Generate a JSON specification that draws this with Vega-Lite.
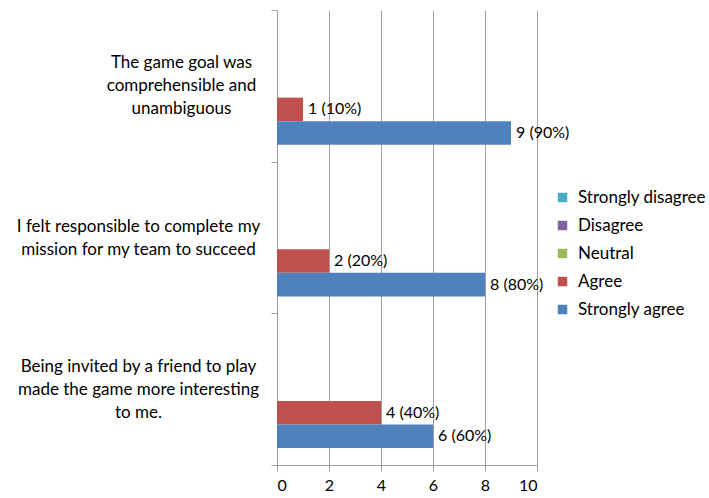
{
  "$schema": "https://vega.github.io/schema/vega-lite/v6.json",
  "width": 260,
  "height": 455,
  "autosize": {"type": "none"},
  "padding": {"left": 277, "top": 10, "right": 172, "bottom": 33},
  "background": "white",
  "config": {
    "font": "Lato",
    "view": {"stroke": null},
    "axis": {"labelFont": "Lato", "labelColor": "#000000"}
  },
  "data": {
    "values": [
      {"statement": "The game goal was|comprehensible and|unambiguous", "response": "Strongly disagree", "count": 0, "label": ""},
      {"statement": "The game goal was|comprehensible and|unambiguous", "response": "Disagree", "count": 0, "label": ""},
      {"statement": "The game goal was|comprehensible and|unambiguous", "response": "Neutral", "count": 0, "label": ""},
      {"statement": "The game goal was|comprehensible and|unambiguous", "response": "Agree", "count": 1, "label": "1 (10%)"},
      {"statement": "The game goal was|comprehensible and|unambiguous", "response": "Strongly agree", "count": 9, "label": "9 (90%)"},
      {"statement": "I felt responsible to complete my|mission for my team to succeed", "response": "Strongly disagree", "count": 0, "label": ""},
      {"statement": "I felt responsible to complete my|mission for my team to succeed", "response": "Disagree", "count": 0, "label": ""},
      {"statement": "I felt responsible to complete my|mission for my team to succeed", "response": "Neutral", "count": 0, "label": ""},
      {"statement": "I felt responsible to complete my|mission for my team to succeed", "response": "Agree", "count": 2, "label": "2 (20%)"},
      {"statement": "I felt responsible to complete my|mission for my team to succeed", "response": "Strongly agree", "count": 8, "label": "8 (80%)"},
      {"statement": "Being invited by a friend to play|made the game more interesting|to me.", "response": "Strongly disagree", "count": 0, "label": ""},
      {"statement": "Being invited by a friend to play|made the game more interesting|to me.", "response": "Disagree", "count": 0, "label": ""},
      {"statement": "Being invited by a friend to play|made the game more interesting|to me.", "response": "Neutral", "count": 0, "label": ""},
      {"statement": "Being invited by a friend to play|made the game more interesting|to me.", "response": "Agree", "count": 4, "label": "4 (40%)"},
      {"statement": "Being invited by a friend to play|made the game more interesting|to me.", "response": "Strongly agree", "count": 6, "label": "6 (60%)"}
    ]
  },
  "layer": [
    {
      "mark": {"type": "bar"},
      "encoding": {
        "y": {
          "field": "statement",
          "type": "nominal",
          "sort": null,
          "scale": {"paddingInner": 0, "paddingOuter": 0},
          "axis": {
            "title": null,
            "labelExpr": "datum.value ? split(datum.value, '|') : ''",
            "labelAlign": "center",
            "labelBaseline": "middle",
            "labelFontSize": 17,
            "labelLineHeight": 23,
            "labelLimit": 300,
            "labelPadding": {
              "condition": {"test": "datum.value && indexof(datum.value, 'The game') == 0", "value": 90},
              "value": 133
            },
            "labelOffset": {
              "condition": {"test": "datum.value && length(split(datum.value, '|')) == 3", "value": -23},
              "value": -11.5
            },
            "tickBand": "extent",
            "tickSize": 6,
            "tickColor": "#A0A0A0",
            "domainColor": "#A0A0A0",
            "grid": false
          }
        },
        "yOffset": {
          "field": "response",
          "type": "nominal",
          "sort": ["Strongly disagree", "Disagree", "Neutral", "Agree", "Strongly agree"],
          "scale": {"paddingInner": 0, "paddingOuter": 0.72}
        },
        "x": {
          "field": "count",
          "type": "quantitative",
          "scale": {"domain": [0, 10], "nice": false},
          "axis": {
            "title": null,
            "values": [0, 2, 4, 6, 8, 10],
            "labelFontSize": 16,
            "labelPadding": 6,
            "tickSize": 6,
            "tickColor": "#A0A0A0",
            "domainColor": "#A0A0A0",
            "gridColor": "#A0A0A0",
            "gridOpacity": 1
          }
        },
        "color": {
          "field": "response",
          "type": "nominal",
          "scale": {
            "domain": ["Strongly disagree", "Disagree", "Neutral", "Agree", "Strongly agree"],
            "range": ["#4BACC6", "#8064A2", "#9BBB59", "#C0504D", "#4F81BD"]
          },
          "legend": {
            "title": null,
            "orient": "none",
            "legendX": 277,
            "legendY": 179,
            "symbolType": "square",
            "symbolSize": 90,
            "symbolStrokeWidth": 0,
            "labelFontSize": 17,
            "labelColor": "#000000",
            "labelFont": "Lato",
            "rowPadding": 10,
            "labelOffset": 7,
            "labelLimit": 200
          }
        }
      }
    },
    {
      "mark": {"type": "text", "align": "left", "baseline": "middle", "dx": 5, "fontSize": 16, "color": "#000000"},
      "encoding": {
        "y": {"field": "statement", "type": "nominal", "sort": null},
        "yOffset": {"field": "response", "type": "nominal", "sort": ["Strongly disagree", "Disagree", "Neutral", "Agree", "Strongly agree"]},
        "x": {"field": "count", "type": "quantitative"},
        "text": {"field": "label"}
      }
    }
  ]
}
